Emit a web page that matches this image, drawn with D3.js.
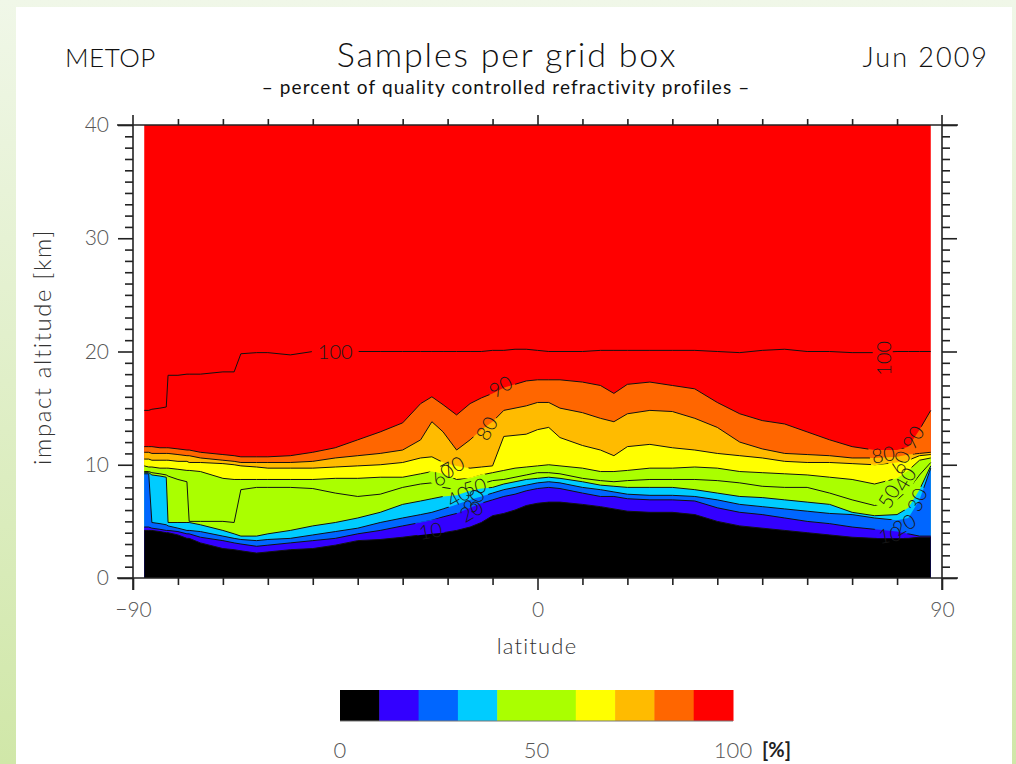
<!DOCTYPE html>
<html><head><meta charset="utf-8">
<script src="https://cdn.jsdelivr.net/npm/d3@7"></script>
<style>body{margin:0;background:#fff;} svg{display:block;}</style>
</head><body>
<svg id="chart" width="1016" height="764"></svg>
<script>
// ---------- data (altitude [km] at which the sample percentage crosses each level) ----------
const latitude = [-87.5,-86.5,-85.8,-84,-82.6,-82.2,-80,-78,-77.5,-75,-70,-67.5,-66,-62.5,-60,-55,-50,-45,-40,-35,-30,-26,-23.5,-21,-18,-15,-12.5,-10,-7.5,-5,-2.5,0,2.5,5,10,14,17,20,25,30,35,40,45,50,55,60,65,70,75,80,82.5,85,87.5];
const z10 = [4.2,4.2,4.2,4.1,4.0,4.0,3.8,3.5,3.5,3.1,2.6,2.5,2.4,2.2,2.3,2.5,2.6,2.9,3.3,3.4,3.6,3.8,3.9,4.0,4.2,4.5,4.9,5.5,5.7,6.0,6.4,6.6,6.7,6.7,6.5,6.3,6.1,5.9,5.8,5.8,5.6,5.0,4.6,4.4,4.2,4.0,3.8,3.6,3.5,3.5,3.5,3.6,3.6];
const z20 = [4.5,4.5,4.4,4.3,4.2,4.2,4.1,3.9,3.9,3.6,3.3,3.1,3.0,2.8,2.9,3.1,3.3,3.5,3.9,4.2,4.6,4.9,5.1,5.4,5.7,6.2,6.6,6.9,7.2,7.4,7.7,7.9,8.0,7.9,7.5,7.2,7.2,7.0,6.9,6.9,6.8,6.2,5.8,5.6,5.3,5.0,4.8,4.5,4.3,4.1,3.9,3.7,3.7];
const z30 = [9.2,9.2,4.9,4.8,4.7,4.6,4.4,4.2,4.2,4.1,3.7,3.5,3.4,3.3,3.4,3.5,3.8,4.1,4.4,4.9,5.3,5.6,5.8,6.1,6.5,6.9,7.2,7.5,7.8,8.0,8.2,8.4,8.5,8.4,8.0,7.8,7.6,7.4,7.3,7.3,7.2,6.9,6.5,6.3,6.1,5.9,5.7,5.6,5.3,5.1,5.3,6.9,9.7];
const z40 = [9.3,9.3,9.1,9.0,8.9,4.9,4.9,4.9,4.9,4.7,4.2,3.9,3.7,3.7,3.9,4.2,4.6,4.9,5.3,5.8,6.5,6.8,7.0,7.2,7.3,7.7,7.9,8.0,8.3,8.5,8.7,8.8,8.9,8.8,8.5,8.2,8.1,8.0,8.0,8.0,7.8,7.5,7.2,7.1,6.9,6.7,6.5,5.8,5.5,5.6,6.2,7.8,9.9];
const z50 = [9.4,9.4,9.3,9.2,9.1,9.0,8.7,8.5,5.0,5.0,5.0,4.9,7.8,8.0,8.0,8.0,7.9,7.5,7.2,7.4,8.0,8.3,8.4,8.0,7.8,8.0,8.3,8.6,8.7,8.9,9.1,9.3,9.3,9.2,8.8,8.6,8.5,8.6,8.7,8.7,8.7,8.6,8.4,8.1,8.0,8.0,7.5,6.9,6.4,6.9,7.8,9.1,10.2];
const z60 = [9.9,9.8,9.8,9.7,9.7,9.7,9.6,9.5,9.5,9.4,8.8,8.7,8.7,8.7,8.7,8.7,8.7,8.8,8.8,8.9,8.9,9.2,9.4,9.2,8.7,8.8,9.1,9.3,9.5,9.7,9.8,9.9,10.0,9.9,9.7,9.4,9.4,9.5,9.7,9.7,9.8,9.7,9.4,9.3,9.2,9.1,8.9,8.7,8.3,8.8,9.5,10.4,10.6];
const z70 = [10.5,10.5,10.4,10.4,10.4,10.4,10.3,10.3,10.2,10.2,10.1,10.0,9.9,9.8,9.7,9.7,9.7,9.8,9.9,10.0,10.2,10.6,10.7,10.2,9.9,9.7,9.8,9.9,12.5,12.6,12.7,13.1,13.3,12.4,11.7,11.3,10.8,11.6,11.8,11.5,11.3,11.0,10.8,10.6,10.3,10.2,10.2,10.1,10.0,10.2,10.4,10.8,10.9];
const z80 = [11.1,11.1,11.0,11.0,11.0,11.0,10.9,10.8,10.8,10.6,10.4,10.3,10.2,10.2,10.2,10.2,10.3,10.6,10.8,11.0,11.3,12.2,13.8,12.9,11.3,12.2,13.1,13.8,14.8,15.0,15.2,15.5,15.5,15.0,14.6,14.1,13.8,14.5,14.8,14.7,14.1,13.3,12.0,11.4,11.0,10.9,10.8,10.6,10.6,10.7,10.9,11.0,11.1];
const z90 = [11.6,11.6,11.6,11.5,11.5,11.5,11.4,11.3,11.3,11.1,10.9,10.8,10.7,10.7,10.7,10.8,11.1,11.5,12.2,12.9,13.7,15.4,16.0,15.3,14.4,15.4,15.9,16.3,16.8,17.1,17.4,17.5,17.5,17.5,17.3,17.0,16.3,17.1,17.3,17.0,16.7,15.5,14.5,13.9,13.6,12.9,12.2,11.6,11.3,11.3,11.6,13.1,14.8];
const z100 = [14.8,14.8,14.9,15.0,15.1,17.9,17.9,18.0,18.0,18.0,18.2,18.2,19.8,19.9,19.9,19.7,20.0,20.0,20.0,20.0,20.0,20.0,20.0,20.0,20.0,20.0,20.0,20.1,20.1,20.2,20.2,20.1,20.0,20.0,20.0,20.1,20.1,20.1,20.1,20.1,20.1,20.0,19.9,20.1,20.2,20.0,20.0,19.9,19.9,20.0,20.0,20.0,20.0];

const levels = [10,20,30,40,50,60,70,80,90,100];
const bandColors = ["#000000","#3300ff","#0066ff","#00ccff","#aaff00","#aaff00","#ffff00","#ffbb00","#ff6600","#ff0000"];
const xTickLabels = [-90,0,90];
const yTickLabels = [0,10,20,30,40];
const legendTickLabels = [0,50,100];

// contour labels (value, latitude, altitude, angle)
const labelText  = ["100","100","90","80","70","60","50","40","30","20","10","80","90","60","50","40","30","20","10"];
const labelLat   = [-45,77,-8.2,-11.3,-18.9,-21.1,-14,-17.6,-14.2,-14.7,-23.8,76.9,83.6,80.7,78.2,81.8,84.5,81.6,78.4];
const labelAlt   = [20.0,19.4,16.9,13.2,9.8,9.1,8.0,7.2,6.8,5.9,4.15,10.9,12.4,10.2,7.2,8.7,6.9,4.7,3.8];
const labelAngle = [0,-90,-30,-60,-30,-40,-15,-30,-60,-30,-10,-10,-60,-70,-60,-60,-70,-30,-10];

// ---------- drawing ----------
const W = 1016, H = 764;
const font = "Lato, 'DejaVu Sans', sans-serif";
const svg = d3.select("#chart");
const defs = svg.append("defs");
const grad = defs.append("linearGradient").attr("id","bg").attr("x1",0).attr("y1",0).attr("x2",0).attr("y2",1);
grad.append("stop").attr("offset","0%").attr("stop-color","#f0f7e8");
grad.append("stop").attr("offset","100%").attr("stop-color","#d0e7a8");
svg.append("rect").attr("width",W).attr("height",H).attr("fill","url(#bg)");
svg.append("rect").attr("x",16).attr("y",7).attr("width",996).attr("height",H-7).attr("fill","#ffffff");

const x = d3.scaleLinear().domain([-90,90]).range([133,942]);
const y = d3.scaleLinear().domain([0,40]).range([578,125]);

const bounds = [z10,z20,z30,z40,z50,z60,z70,z80,z90];
const area = arr => d3.area().x((d,i)=>x(latitude[i])).y0(y(0)).y1((d,i)=>y(arr[i]))(arr);

const plot = svg.append("g");
plot.append("path").attr("d", area(latitude.map(()=>40))).attr("fill", bandColors[9]);
for (let i = bounds.length-1; i >= 0; i--) {
  plot.append("path").attr("d", area(bounds[i])).attr("fill", bandColors[i]);
}

// mask for label gaps in contour lines
const mask = defs.append("mask").attr("id","lblmask").attr("maskUnits","userSpaceOnUse")
  .attr("x",0).attr("y",0).attr("width",W).attr("height",H);
mask.append("rect").attr("width",W).attr("height",H).attr("fill","#fff");

const lineGen = d3.line().x((d,i)=>x(latitude[i])).y(d=>y(d));
const lines = svg.append("g").attr("mask","url(#lblmask)");
[z10,z20,z30,z40,z50,z60,z70,z80,z90,z100].forEach(arr=>{
  lines.append("path").attr("d", lineGen(arr)).attr("fill","none")
    .attr("stroke","#111").attr("stroke-width",1).attr("stroke-linejoin","round");
});

const labelsG = svg.append("g");
labelText.forEach((t,i)=>{
  const tr = `translate(${x(labelLat[i])},${y(labelAlt[i])}) rotate(${labelAngle[i]})`;
  const txt = labelsG.append("text").attr("transform",tr)
    .attr("text-anchor","middle").attr("dy","0.36em")
    .attr("font-family",font).attr("font-weight",300)
    .attr("font-size",20).attr("fill","#1a1a1a").text(t);
  const bb = txt.node().getBBox();
  const pad = t === "100" ? 6 : 2;
  mask.append("rect").attr("transform",tr).attr("x",bb.x-pad).attr("y",bb.y+2)
    .attr("width",bb.width+2*pad).attr("height",Math.max(0,bb.height-4)).attr("fill","#000");
});

// ---------- axes / frame ----------
const axisColor = "#222";
const frame = svg.append("g").attr("stroke",axisColor).attr("stroke-width",1.6);
frame.append("line").attr("x1",117).attr("x2",958).attr("y1",y(0)).attr("y2",y(0));
frame.append("line").attr("x1",117).attr("x2",958).attr("y1",y(40)).attr("y2",y(40));
frame.append("line").attr("x1",x(-90)).attr("x2",x(-90)).attr("y1",115).attr("y2",590);
frame.append("line").attr("x1",x(90)).attr("x2",x(90)).attr("y1",115).attr("y2",590);

const yMinor = d3.range(1,40).filter(v=>v%10!==0);
const xMinor = d3.range(-80,90,10).filter(v=>v!==0);
function styleAxis(g){ g.select(".domain").remove(); g.selectAll(".tick line").attr("stroke",axisColor).attr("stroke-width",1.6); }

svg.append("g").attr("transform",`translate(${x(-90)},0)`).call(d3.axisLeft(y).tickValues(yMinor).tickSize(8).tickFormat("")).call(styleAxis);
svg.append("g").attr("transform",`translate(${x(90)},0)`).call(d3.axisRight(y).tickValues(yMinor).tickSize(8).tickFormat("")).call(styleAxis);
svg.append("g").attr("transform",`translate(${x(90)},0)`).call(d3.axisRight(y).tickValues(yTickLabels).tickSize(15).tickFormat("")).call(styleAxis);
const yAx = svg.append("g").attr("transform",`translate(${x(-90)},0)`)
  .call(d3.axisLeft(y).tickValues(yTickLabels).tickSize(15).tickPadding(9).tickFormat(d3.format("d"))).call(styleAxis);
yAx.selectAll("text").attr("font-family",font).attr("font-weight",300)
  .attr("font-size",21).attr("fill","#555");

svg.append("g").attr("transform",`translate(0,${y(0)})`).call(d3.axisBottom(x).tickValues(xMinor).tickSize(7).tickFormat("")).call(styleAxis);
svg.append("g").attr("transform",`translate(0,${y(40)})`).call(d3.axisTop(x).tickValues(xMinor).tickSize(6).tickFormat("")).call(styleAxis);
svg.append("g").attr("transform",`translate(0,${y(40)})`).call(d3.axisTop(x).tickValues([0]).tickSize(10).tickFormat("")).call(styleAxis);
const xAx = svg.append("g").attr("transform",`translate(0,${y(0)})`)
  .call(d3.axisBottom(x).tickValues(xTickLabels).tickSize(12).tickPadding(12).tickFormat(d=> d<0 ? "\u2212"+Math.abs(d) : String(d))).call(styleAxis);
xAx.selectAll("text").attr("font-family",font).attr("font-weight",300)
  .attr("font-size",21).attr("fill","#555");

// axis titles
svg.append("text").attr("transform","translate(51,347) rotate(-90)").attr("text-anchor","middle")
  .attr("font-family",font).attr("font-weight",300).attr("font-size",24).attr("letter-spacing",1.6)
  .attr("fill","#333").text("impact altitude [km]");
svg.append("text").attr("x",537).attr("y",654).attr("text-anchor","middle")
  .attr("font-family",font).attr("font-weight",300).attr("font-size",22).attr("letter-spacing",1.2)
  .attr("fill","#333").text("latitude");

// titles
svg.append("text").attr("x",65).attr("y",67).attr("font-family",font).attr("font-weight",300)
  .attr("font-size",26).attr("letter-spacing",0.5).attr("fill","#111").text("METOP");
svg.append("text").attr("x",507).attr("y",67).attr("text-anchor","middle").attr("font-family",font).attr("font-weight",300)
  .attr("font-size",34).attr("letter-spacing",1.8).attr("fill","#111").text("Samples per grid box");
svg.append("text").attr("x",989).attr("y",67).attr("text-anchor","end").attr("font-family",font).attr("font-weight",300)
  .attr("font-size",27).attr("letter-spacing",2).attr("fill","#111").text("Jun 2009");
svg.append("text").attr("x",506).attr("y",94).attr("text-anchor","middle").attr("font-family",font)
  .attr("font-size",19).attr("letter-spacing",1.1).attr("fill","#111").text("\u2013 percent of quality controlled refractivity profiles \u2013");

// colour bar
const lx = d3.scaleLinear().domain([0,100]).range([340,733]);
const legend = svg.append("g");
d3.range(0,100,10).forEach((v,i)=>{
  legend.append("rect").attr("x",lx(v)).attr("y",690).attr("width",lx(v+10)-lx(v)+0.5).attr("height",31).attr("fill",bandColors[i]);
});
legend.append("line").attr("x1",lx(0)).attr("x2",lx(100)).attr("y1",721).attr("y2",721).attr("stroke","#777").attr("stroke-width",1);
legendTickLabels.forEach(v=>{
  legend.append("text").attr("x",lx(v)).attr("y",758).attr("text-anchor","middle")
    .attr("font-family",font).attr("font-weight",300).attr("font-size",22).attr("fill","#555").text(v);
});
legend.append("text").attr("x",762).attr("y",757).attr("font-family",font).attr("font-weight",700)
  .attr("font-size",20).attr("fill","#222").text("[%]");
</script>
</body></html>
